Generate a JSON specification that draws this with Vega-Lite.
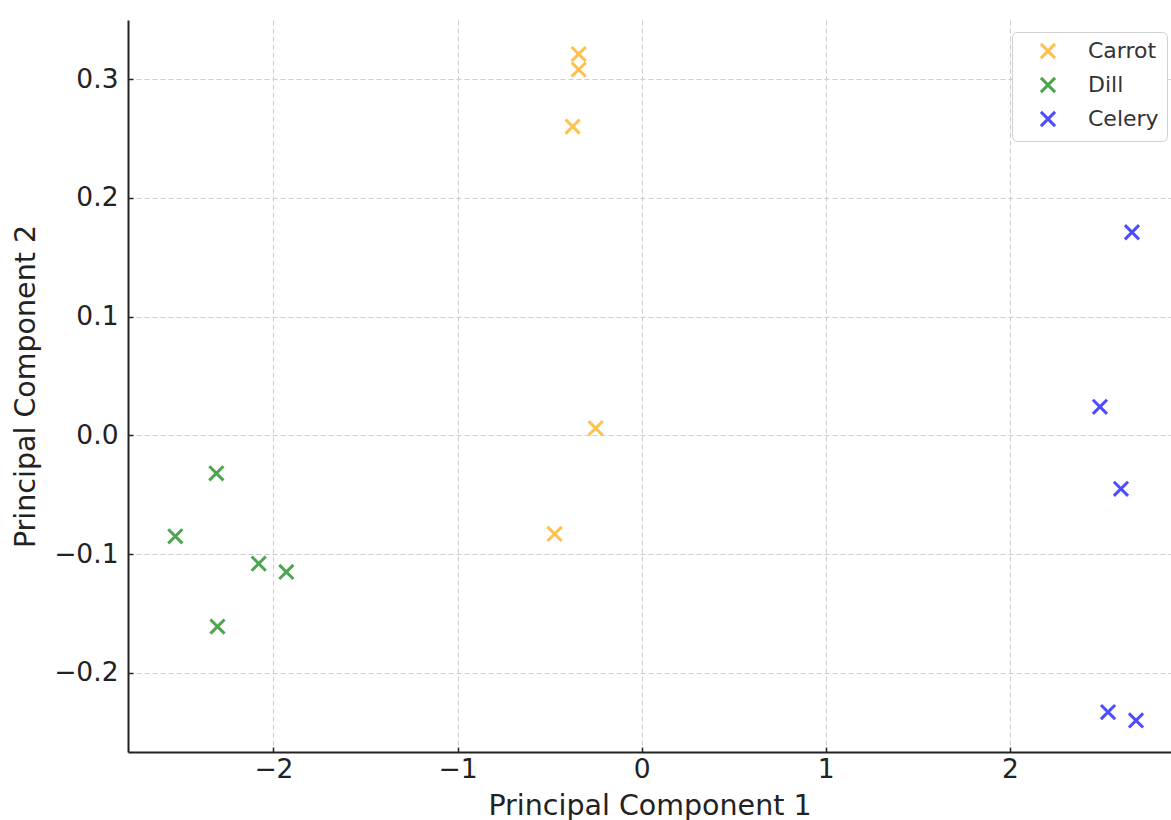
{
  "$schema": "https://vega.github.io/schema/vega-lite/v6.json",
  "autosize": "none",
  "width": 1043,
  "height": 732,
  "padding": {"left": 128, "top": 20, "right": 0, "bottom": 68},
  "background": "white",
  "config": {
    "font": "DejaVu Sans",
    "view": {"stroke": null}
  },
  "data": {
    "values": [
      {"pc1": -0.342, "pc2": 0.321, "type": "Carrot"},
      {"pc1": -0.342, "pc2": 0.308, "type": "Carrot"},
      {"pc1": -0.375, "pc2": 0.260, "type": "Carrot"},
      {"pc1": -0.250, "pc2": 0.006, "type": "Carrot"},
      {"pc1": -0.473, "pc2": -0.083, "type": "Carrot"},
      {"pc1": -2.310, "pc2": -0.032, "type": "Dill"},
      {"pc1": -2.533, "pc2": -0.085, "type": "Dill"},
      {"pc1": -2.080, "pc2": -0.108, "type": "Dill"},
      {"pc1": -1.930, "pc2": -0.115, "type": "Dill"},
      {"pc1": -2.304, "pc2": -0.161, "type": "Dill"},
      {"pc1": 2.663, "pc2": 0.171, "type": "Celery"},
      {"pc1": 2.489, "pc2": 0.024, "type": "Celery"},
      {"pc1": 2.603, "pc2": -0.045, "type": "Celery"},
      {"pc1": 2.533, "pc2": -0.233, "type": "Celery"},
      {"pc1": 2.685, "pc2": -0.240, "type": "Celery"}
    ]
  },
  "mark": {
    "type": "point",
    "shape": "M-1,-1L1,1M1,-1L-1,1",
    "filled": false,
    "size": 200,
    "strokeWidth": 3,
    "opacity": 1
  },
  "encoding": {
    "x": {
      "field": "pc1",
      "type": "quantitative",
      "scale": {"domain": [-2.79, 2.875], "nice": false, "zero": false},
      "axis": {
        "title": "Principal Component 1",
        "titleFontSize": 28.5,
        "titleFontWeight": "normal",
        "titleColor": "#222",
        "titlePadding": 9,
        "values": [-2, -1, 0, 1, 2],
        "format": "d",
        "labelFontSize": 26.5,
        "labelColor": "#222",
        "labelPadding": 9,
        "domainColor": "#222",
        "domainWidth": 2,
        "ticks": true,
        "tickSize": -5,
        "tickColor": "#222",
        "tickWidth": 1.5,
        "grid": true,
        "gridDash": [5, 3],
        "gridColor": "#cccccc",
        "gridWidth": 1
      }
    },
    "y": {
      "field": "pc2",
      "type": "quantitative",
      "scale": {"domain": [-0.2666, 0.3497], "nice": false, "zero": false},
      "axis": {
        "title": "Principal Component 2",
        "titleFontSize": 28.5,
        "titleFontWeight": "normal",
        "titleColor": "#222",
        "titlePadding": 13,
        "values": [-0.2, -0.1, 0, 0.1, 0.2, 0.3],
        "format": ".1f",
        "labelFontSize": 26.5,
        "labelColor": "#222",
        "labelPadding": 15,
        "domainColor": "#222",
        "domainWidth": 2,
        "ticks": true,
        "tickSize": -5,
        "tickColor": "#222",
        "tickWidth": 1.5,
        "grid": true,
        "gridDash": [5, 3],
        "gridColor": "#cccccc",
        "gridWidth": 1
      }
    },
    "color": {
      "field": "type",
      "type": "nominal",
      "scale": {
        "domain": ["Carrot", "Dill", "Celery"],
        "range": ["#FFC04D", "#4DA64D", "#4D4DFF"]
      },
      "legend": {
        "title": null,
        "orient": "none",
        "legendX": 884,
        "legendY": 12,
        "labelFontSize": 22,
        "labelColor": "#333",
        "labelOffset": 29,
        "symbolSize": 200,
        "symbolStrokeWidth": 3,
        "symbolOffset": 17,
        "rowPadding": 6,
        "padding": 8,
        "strokeColor": "#d0d0d0",
        "fillColor": "white",
        "cornerRadius": 5,
        "symbolType": "M-1,-1L1,1M1,-1L-1,1"
      }
    }
  }
}
